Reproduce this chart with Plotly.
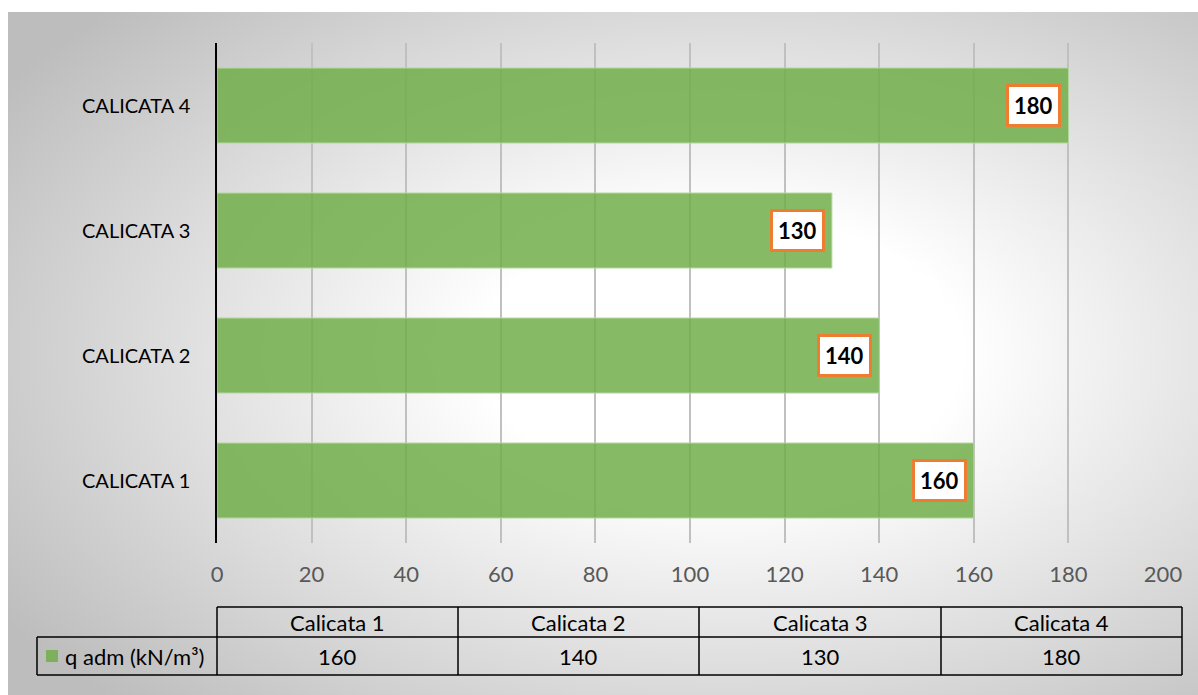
import base64
import plotly.graph_objects as go

# ---- data ----
categories = ["CALICATA 1", "CALICATA 2", "CALICATA 3", "CALICATA 4"]
table_headers = ["Calicata 1", "Calicata 2", "Calicata 3", "Calicata 4"]
values = [160, 140, 130, 180]
series_name = "q adm (kN/m³)"
x_ticks = [0, 20, 40, 60, 80, 100, 120, 140, 160, 180, 200]

W, H = 1198, 695
L, R, T, B = 217, 1163, 43, 543  # plot area in pixels
PW, PH = R - L, B - T

def px(x):
    return (x - L) / PW

def py(y):
    return (B - y) / PH

BAR = "rgba(112,173,71,0.84)"
FONT = "Lato"

fig = go.Figure()
fig.add_trace(go.Bar(
    y=categories, x=values, orientation="h", width=0.6,
    marker=dict(color=BAR, line=dict(color="rgba(180,215,160,1)", width=1)),
    name=series_name, showlegend=False, hoverinfo="x+y",
))

# background radial gradient (SVG)
svg = f'''<svg xmlns="http://www.w3.org/2000/svg" width="1190" height="683" viewBox="0 0 1190 683">
<defs><radialGradient id="g" cx="0.6" cy="0.5" r="0.72" gradientUnits="objectBoundingBox">
<stop offset="0" stop-color="#ffffff"/><stop offset="0.28" stop-color="#ffffff"/>
<stop offset="1" stop-color="#bdbdbd"/></radialGradient></defs>
<rect x="0" y="0" width="1190" height="683" fill="url(#g)"/></svg>'''
uri = "data:image/svg+xml;base64," + base64.b64encode(svg.encode()).decode()

images = [dict(source=uri, xref="paper", yref="paper", x=px(8), y=py(12),
               sizex=(1198 - 8) / PW, sizey=(695 - 12) / PH,
               xanchor="left", yanchor="top", sizing="stretch", layer="below")]

shapes = []
annotations = []
lc = "#000000"
lw = 1.5
cols = [217, 458, 699, 941, 1182]
y_top, y_mid, y_bot = 607, 637, 675
# data table lines
def line(x0, y0, x1, y1):
    shapes.append(dict(type="line", xref="paper", yref="paper",
                       x0=px(x0), y0=py(y0), x1=px(x1), y1=py(y1),
                       line=dict(color=lc, width=lw)))
line(cols[0], y_top, cols[-1], y_top)
line(37, y_mid, cols[-1], y_mid)
line(37, y_bot, cols[-1], y_bot)
line(37, y_mid, 37, y_bot)
for c in cols:
    line(c, y_top, c, y_bot)

tfont = dict(family=FONT, size=22, color="#000")
for i, (h, v) in enumerate(zip(table_headers, values)):
    cx = (cols[i] + cols[i + 1]) / 2
    annotations.append(dict(text=h, x=px(cx), y=py((y_top + y_mid) / 2), xref="paper", yref="paper",
                            xanchor="center", yanchor="middle", showarrow=False, font=tfont))
    annotations.append(dict(text=str(v), x=px(cx), y=py((y_mid + y_bot) / 2), xref="paper", yref="paper",
                            xanchor="center", yanchor="middle", showarrow=False, font=tfont))

# legend key
shapes.append(dict(type="rect", xref="paper", yref="paper", x0=px(46), x1=px(58),
                   y0=py(662), y1=py(650), fillcolor=BAR, line=dict(width=0)))
annotations.append(dict(text=series_name, x=px(63), y=py(656), xref="paper", yref="paper",
                        xanchor="left", yanchor="middle", showarrow=False, font=tfont))

# data labels
for c, v in zip(categories, values):
    annotations.append(dict(text="<b>%d</b>" % v, x=v, y=c, xref="x", yref="y", xanchor="right",
                            yanchor="middle", xshift=-7, showarrow=False, bgcolor="#ffffff",
                            bordercolor="#ED7D31", borderwidth=3, borderpad=5,
                            font=dict(family=FONT, size=22, color="#000")))

fig.update_layout(
    width=W, height=H,
    margin=dict(l=L, r=W - R, t=T, b=H - B, pad=0),
    paper_bgcolor="#ffffff", plot_bgcolor="rgba(0,0,0,0)",
    images=images, shapes=shapes, annotations=annotations,
    bargap=0.4, showlegend=False,
    xaxis=dict(range=[0, 200], tickvals=x_ticks, showgrid=True, gridcolor="#c0c0c0", gridwidth=1.5,
               zeroline=False, showline=False, ticks="",
               tickfont=dict(family=FONT, size=22, color="#595959"), ticklabelstandoff=16,
               fixedrange=True),
    yaxis=dict(categoryorder="array", categoryarray=categories, showgrid=False, zeroline=False,
               showline=True, linecolor="#000000", linewidth=1.5, ticks="",
               tickfont=dict(family=FONT, size=20, color="#000"), ticklabelstandoff=21,
               fixedrange=True),
)

fig.write_html("out.html")
